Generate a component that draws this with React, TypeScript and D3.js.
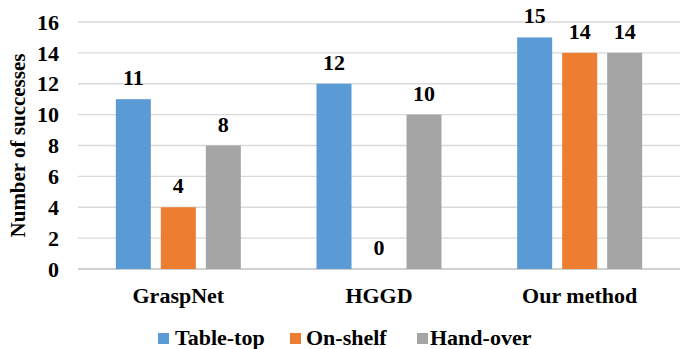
import React from "react";
import * as d3 from "d3";

const categories = ["GraspNet", "HGGD", "Our method"];
const seriesNames = ["Table-top", "On-shelf", "Hand-over"];
const tableTop = [11, 12, 15];
const onShelf = [4, 0, 14];
const handOver = [8, 10, 14];
const yTicks = [0, 2, 4, 6, 8, 10, 12, 14, 16];
const colors = ["#5B9BD5", "#ED7D31", "#A5A5A5"];

const W = 680;
const H = 349;
const margin = { left: 78, right: 0, top: 22, bottom: 80 };
const FONT = "Liberation Serif";

export default function App() {
  const series = [tableTop, onShelf, handOver];
  const x = d3.scaleBand<string>().domain(categories).range([margin.left, W - margin.right]).padding(0);
  const y = d3.scaleLinear().domain([0, 16]).range([H - margin.bottom, margin.top]);
  const barW = 35;
  const gap = 10;
  const groupW = barW * 3 + gap * 2;

  const legendItems = [
    { sq: 158, tx: 175 },
    { sq: 290, tx: 306 },
    { sq: 417, tx: 430 },
  ];

  return (
    <svg width={W} height={H} style={{ position: "absolute", left: 0, top: 0, background: "#fff" }}>
      <style>{`.chart-text { font-family: "Liberation Serif", "Times New Roman", serif !important; font-weight: 700 !important; }`}</style>
      {yTicks.map((t) => (
        <g key={t}>
          <line x1={margin.left} x2={W - margin.right} y1={y(t)} y2={y(t)} stroke={t === 0 ? "#bfbfbf" : "#d9d9d9"} strokeWidth={1.3} />
          <text className="chart-text" x={59} y={y(t)} dy="0.35em" textAnchor="end" fontSize={22} fontWeight="bold" fontFamily={FONT}>
            {t}
          </text>
        </g>
      ))}
      {categories.map((c, ci) => {
        const cx = (x(c) as number) + x.bandwidth() / 2;
        const start = cx - groupW / 2;
        return (
          <g key={c}>
            {series.map((s, si) => {
              const bx = start + si * (barW + gap);
              const v = s[ci];
              return (
                <g key={si}>
                  {v > 0 && (
                    <rect x={bx} y={y(v)} width={barW} height={y(0) - y(v)} fill={colors[si]} />
                  )}
                  <text className="chart-text" x={bx + barW / 2} y={y(v) - 14} textAnchor="middle" fontSize={22} fontWeight="bold" fontFamily={FONT}>
                    {v}
                  </text>
                </g>
              );
            })}
            <text className="chart-text" x={cx} y={303} textAnchor="middle" fontSize={22} fontWeight="bold" fontFamily={FONT}>
              {c}
            </text>
          </g>
        );
      })}
      <text
        className="chart-text"
        transform={`translate(25, ${(y(0) + y(16)) / 2}) rotate(-90)`}
        textAnchor="middle"
        fontSize={21}
        fontWeight="bold"
        fontFamily={FONT}
      >
        Number of successes
      </text>
      {seriesNames.map((n, i) => (
        <g key={n}>
          <rect x={legendItems[i].sq} y={333} width={11} height={11} fill={colors[i]} />
          <text className="chart-text" x={legendItems[i].tx} y={345} fontSize={22} fontWeight="bold" fontFamily={FONT}>
            {n}
          </text>
        </g>
      ))}
    </svg>
  );
}
